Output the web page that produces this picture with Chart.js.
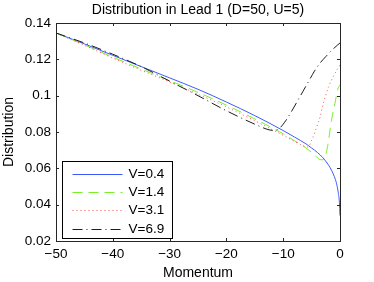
<!DOCTYPE html>
<html>
<head>
<meta charset="utf-8">
<script src="https://cdn.jsdelivr.net/npm/chart.js@4/dist/chart.umd.min.js"></script>
<style>
  html, body { margin: 0; padding: 0; background: #fff; }
  #wrap { width: 374px; height: 282px; }
</style>
</head>
<body>
<div id="wrap"><canvas id="c" width="374" height="282"></canvas></div>
<script>
// ---- data ----
const chartTitle = "Distribution in Lead 1 (D=50, U=5)";
const xAxisTitle = "Momentum";
const yAxisTitle = "Distribution";
const xTickLabels = ["\u221250", "\u221240", "\u221230", "\u221220", "\u221210", "0"];
const yTickLabels = ["0.02", "0.04", "0.06", "0.08", "0.1", "0.12", "0.14"];
const seriesNames = ["V=0.4", "V=1.4", "V=3.1", "V=6.9"];

const momentumV04 = [-50, -45, -40, -35, -30, -25, -20, -15, -10, -8, -6, -5, -4, -3, -2, -1.5, -1, -0.6, -0.3, -0.1, 0];
const distV04     = [0.1345, 0.1285, 0.1222, 0.1160, 0.1098, 0.1035, 0.0965, 0.0890, 0.0808, 0.0772, 0.0735, 0.0712, 0.0688, 0.0658, 0.0617, 0.0590, 0.0555, 0.0515, 0.0465, 0.0410, 0.0340];

const momentumV14 = [-50, -45, -40, -35, -30, -25, -20, -15, -10, -8, -6, -5, -4.2, -3.5, -3.0, -2.6, -2.1, -1.5, -0.9, -0.4, 0];
const distV14     = [0.1345, 0.1280, 0.1212, 0.1147, 0.1083, 0.1018, 0.0948, 0.0872, 0.0790, 0.0752, 0.0712, 0.0688, 0.0665, 0.0648, 0.0647, 0.0665, 0.0736, 0.0865, 0.0955, 0.1035, 0.1060];

const momentumV31 = [-50, -45, -40, -35, -30, -25, -20, -15, -10, -8, -6.5, -5.6, -5.0, -4.4, -4.0, -3.5, -3.0, -2.5, -2.0, -1.5, -0.9, -0.4, 0];
const distV31     = [0.1345, 0.1277, 0.1207, 0.1140, 0.1075, 0.1008, 0.0938, 0.0862, 0.0782, 0.0748, 0.0725, 0.0717, 0.0754, 0.0800, 0.0837, 0.0883, 0.0950, 0.1003, 0.1050, 0.1085, 0.1122, 0.1150, 0.1170];

const momentumV69 = [-50, -45, -40, -35, -30, -25, -20, -15, -12.5, -11.5, -10.5, -9.5, -8.5, -7.5, -6.5, -5.5, -4.5, -3.5, -2.5, -1.5, -0.5, 0];
const distV69     = [0.1345, 0.1290, 0.1228, 0.1160, 0.1080, 0.1000, 0.0917, 0.0843, 0.0812, 0.0808, 0.0825, 0.0865, 0.0915, 0.0970, 0.1025, 0.1080, 0.1135, 0.1180, 0.1215, 0.1248, 0.1277, 0.1290];

// ---- styles ----
const FONT = "'Liberation Sans', Arial, Helvetica, sans-serif";
const styles = [
  { color: "rgb(60,90,255)",  dash: [] ,          order: 4 },
  { color: "rgb(120,240,40)", dash: [10, 6],      order: 3 },
  { color: "rgb(255,80,80)",  dash: [1, 3],       order: 2 },
  { color: "rgb(30,30,30)",   dash: [10, 4, 1, 4], order: 1 }
];
const xs = [momentumV04, momentumV14, momentumV31, momentumV69];
const ys = [distV04, distV14, distV31, distV69];

const datasets = seriesNames.map((name, i) => ({
  label: name,
  data: xs[i].map((x, j) => ({ x: x, y: ys[i][j] })),
  showLine: true,
  borderColor: styles[i].color,
  backgroundColor: styles[i].color,
  borderDash: styles[i].dash,
  borderWidth: 1,
  pointRadius: 0,
  cubicInterpolationMode: 'monotone',
  order: styles[i].order
}));

// box, inward ticks and legend, placed with the chart's own scales
const boxPlugin = {
  id: 'boxPlugin',
  afterDatasetsDraw(chart) {
    const { ctx, chartArea: a, scales } = chart;
    ctx.save();
    ctx.strokeStyle = '#262626';
    ctx.lineWidth = 1;
    ctx.setLineDash([]);
    ctx.strokeRect(Math.round(a.left) + 0.5, Math.round(a.top) + 0.5,
                   Math.round(a.right - a.left), Math.round(a.bottom - a.top));
    const tl = 3;
    ctx.beginPath();
    scales.x.ticks.forEach(t => {
      const px = Math.round(scales.x.getPixelForValue(t.value)) + 0.5;
      ctx.moveTo(px, a.bottom); ctx.lineTo(px, a.bottom - tl);
      ctx.moveTo(px, a.top); ctx.lineTo(px, a.top + tl);
    });
    scales.y.ticks.forEach(t => {
      const py = Math.round(scales.y.getPixelForValue(t.value)) + 0.5;
      ctx.moveTo(a.left, py); ctx.lineTo(a.left + tl, py);
      ctx.moveTo(a.right, py); ctx.lineTo(a.right - tl, py);
    });
    ctx.stroke();

    // legend
    const lx = Math.round(a.left) + 6.5, lw = 110, lh = 77;
    const ly = Math.round(a.bottom) - 2.5 - lh;
    ctx.fillStyle = '#fff';
    ctx.fillRect(lx, ly, lw, lh);
    ctx.strokeStyle = '#000';
    ctx.strokeRect(lx, ly, lw, lh);
    ctx.font = "13.5px " + FONT;
    ctx.textBaseline = 'middle';
    ctx.textAlign = 'left';
    chart.data.datasets.forEach((ds, i) => {
      const cy = Math.round(ly + 12 + i * 18.4) + 0.5;
      ctx.strokeStyle = ds.borderColor;
      ctx.setLineDash(ds.borderDash);
      ctx.beginPath();
      ctx.moveTo(lx + 10, cy); ctx.lineTo(lx + 60, cy);
      ctx.stroke();
      ctx.setLineDash([]);
      ctx.fillStyle = '#000';
      ctx.fillText(ds.label, lx + 66, cy);
    });
    ctx.restore();
  }
};

new Chart(document.getElementById('c'), {
  type: 'scatter',
  data: { datasets },
  plugins: [boxPlugin],
  options: {
    responsive: false,
    animation: false,
    devicePixelRatio: 1,
    layout: { padding: { left: 0, right: 34, top: 0, bottom: 0 } },
    plugins: {
      legend: { display: false },
      tooltip: { enabled: false },
      title: {
        display: true,
        text: chartTitle,
        fullSize: false,
        color: '#000',
        font: { family: FONT, size: 14, weight: 'normal' },
        padding: { top: 2, bottom: 4.2 }
      }
    },
    scales: {
      x: {
        type: 'linear', min: -50, max: 0,
        afterFit: s => { s.height = 41; },
        grid: { display: false, drawTicks: false },
        border: { display: false },
        ticks: {
          stepSize: 10, padding: 5, color: '#000',
          font: { family: FONT, size: 13.5 },
          maxRotation: 0,
          callback: (v, i) => xTickLabels[i]
        },
        title: { display: true, text: xAxisTitle, color: '#000',
                 font: { family: FONT, size: 14 }, padding: { top: 0, bottom: 0 } }
      },
      y: {
        type: 'linear', min: 0.02, max: 0.14,
        afterFit: s => { s.width = 56; },
        grid: { display: false, drawTicks: false },
        border: { display: false },
        ticks: {
          stepSize: 0.02, padding: 5, color: '#000',
          font: { family: FONT, size: 13.5 },
          callback: (v, i) => yTickLabels[i]
        },
        title: { display: true, text: yAxisTitle, color: '#000',
                 font: { family: FONT, size: 14 }, padding: { top: 1, bottom: 0 } }
      }
    }
  }
});
</script>
</body>
</html>
